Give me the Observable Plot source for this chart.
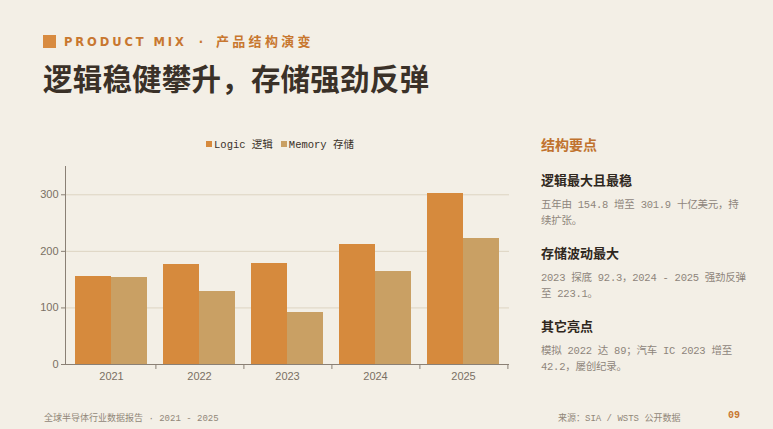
<!DOCTYPE html>
<html>
<head>
<meta charset="utf-8">
<script src="https://cdn.jsdelivr.net/npm/d3@7"></script>
<script src="https://cdn.jsdelivr.net/npm/@observablehq/plot@0.6"></script>
<style>
  html, body { margin: 0; padding: 0; }
  body { width: 773px; height: 429px; background: #f3efe6; position: relative; overflow: hidden;
         font-family: "Noto Sans CJK SC", "Noto Sans", sans-serif; }
  .abs { position: absolute; white-space: nowrap; }
  #kicker { left: 43px; top: 34px; display: flex; align-items: center; }
  #kicker .sq { width: 13px; height: 13px; background: #d88b40; margin-right: 8px; }
  #kicker .tx { font-family: "DejaVu Sans", sans-serif; font-weight: bold; font-size: 11.5px; letter-spacing: 2.9px; color: #c8772f; line-height: 14px; }
  #kicker .dot { margin: 0 10px 0 12px; }
  #kicker .cjk { font-family: "Noto Sans CJK SC"; font-weight: bold; font-size: 13px; letter-spacing: 3.3px; }
  #title { left: 43px; top: 57px; font-size: 29.5px; font-weight: bold; color: #3a3128; line-height: 40px; letter-spacing: 0.2px; }
  #legend { left: 0; width: 560px; top: 138px; text-align: center; font-family: "Liberation Mono", "Noto Sans CJK SC", monospace; font-size: 10.5px; color: #3a3128; line-height: 14px; }
  #legend span.item { margin: 0 4px; }
  #legend i { display: inline-block; width: 6px; height: 6px; margin-right: 2px; vertical-align: 1px; }
  #chart { left: 0; top: 160px; }
  #panel { left: 541px; top: 134px; }
  #panel .hd { font-size: 14px; font-weight: bold; color: #c0722e; line-height: 20px; position: absolute; top: 0; }
  #panel .h { font-size: 13px; font-weight: bold; color: #2f2720; line-height: 18px; position: absolute; }
  #panel .b { font-family: "Liberation Mono", "Noto Sans CJK SC", monospace; font-size: 10.5px; color: #8e857b; line-height: 15.5px; position: absolute; letter-spacing: -0.25px; }
  #foot-l { left: 44px; top: 411px; font-size: 9px; color: #918779; font-family: "Liberation Mono", "Noto Sans CJK SC", monospace; }
  #foot-r { left: 558px; top: 411px; font-size: 9px; color: #918779; font-family: "Liberation Mono", "Noto Sans CJK SC", monospace; }
  #foot-n { left: 728px; top: 410px; font-size: 10px; font-weight: bold; color: #c8772f; font-family: "Liberation Mono", monospace; }
</style>
</head>
<body>
<div id="kicker" class="abs"><div class="sq"></div><div class="tx">PRODUCT MIX<span class="dot">·</span><span class="cjk">产品结构演变</span></div></div>
<div id="title" class="abs">逻辑稳健攀升，存储强劲反弹</div>
<div id="legend" class="abs"></div>
<div id="chart" class="abs"></div>
<div id="panel" class="abs">
  <div class="hd">结构要点</div>
  <div class="h" style="top:37px">逻辑最大且最稳</div>
  <div class="b" style="top:64px">五年由 154.8 增至 301.9 十亿美元，持<br>续扩张。</div>
  <div class="h" style="top:110px">存储波动最大</div>
  <div class="b" style="top:137px">2023 探底 92.3，2024 - 2025 强劲反弹<br>至 223.1。</div>
  <div class="h" style="top:183px">其它亮点</div>
  <div class="b" style="top:210px">模拟 2022 达 89；汽车 IC 2023 增至<br>42.2，屡创纪录。</div>
</div>
<div id="foot-l" class="abs">全球半导体行业数据报告 · 2021 - 2025</div>
<div id="foot-r" class="abs">来源：SIA / WSTS 公开数据</div>
<div id="foot-n" class="abs">09</div>
<script>
const years = ["2021", "2022", "2023", "2024", "2025"];
const seriesNames = ["Logic 逻辑", "Memory 存储"];
const logic = [154.8, 176.6, 178.6, 212.2, 301.9];
const memory = [153.8, 129.8, 92.3, 164.6, 223.1];
const seriesColors = ["#d68a3d", "#c9a064"];
const yTicks = [0, 100, 200, 300];

const logicData = years.map((y, i) => ({year: y, value: logic[i]}));
const memoryData = years.map((y, i) => ({year: y, value: memory[i]}));

// legend
const legend = document.getElementById("legend");
legend.innerHTML = seriesNames.map((s, i) =>
  `<span class="item"><i style="background:${seriesColors[i]}"></i>${s}</span>`).join("");

const W = 520, H = 230, mL = 65, mR = 11, mT = 6, mB = 26;
const step = (W - mL - mR) / years.length;
const outer = step * 0.093;
const axisColor = "#8a8075";
const labelColor = "#7a7064";

const chart = Plot.plot({
  width: W, height: H,
  marginLeft: mL, marginRight: mR, marginTop: mT, marginBottom: mB,
  style: {background: "transparent", fontFamily: "'Liberation Sans', Arial, sans-serif", fontSize: "11px", color: labelColor},
  x: {domain: years, padding: 0, label: null},
  y: {domain: [0, 350], label: null},
  marks: [
    Plot.gridY([100, 200, 300], {stroke: "#ddd4c2", strokeOpacity: 1, strokeWidth: 1}),
    Plot.barY(logicData, {x: "year", y: "value", fill: seriesColors[0], insetLeft: outer, insetRight: step / 2, shapeRendering: "crispEdges"}),
    Plot.barY(memoryData, {x: "year", y: "value", fill: seriesColors[1], insetLeft: step / 2, insetRight: outer, shapeRendering: "crispEdges"}),
    Plot.frame({anchor: "left", stroke: axisColor}),
    Plot.ruleY([0], {stroke: axisColor}),
    Plot.axisY({ticks: yTicks, tickSize: 4, tickPadding: 3, stroke: axisColor, fill: labelColor, label: null}),
    Plot.axisX({tickSize: 0, tickPadding: 8, fill: labelColor, label: null}),
    Plot.axisX({tickSize: 5, tickFormat: () => "", dx: step / 2, stroke: axisColor, label: null})
  ]
});
document.getElementById("chart").appendChild(chart);
</script>
</body>
</html>
